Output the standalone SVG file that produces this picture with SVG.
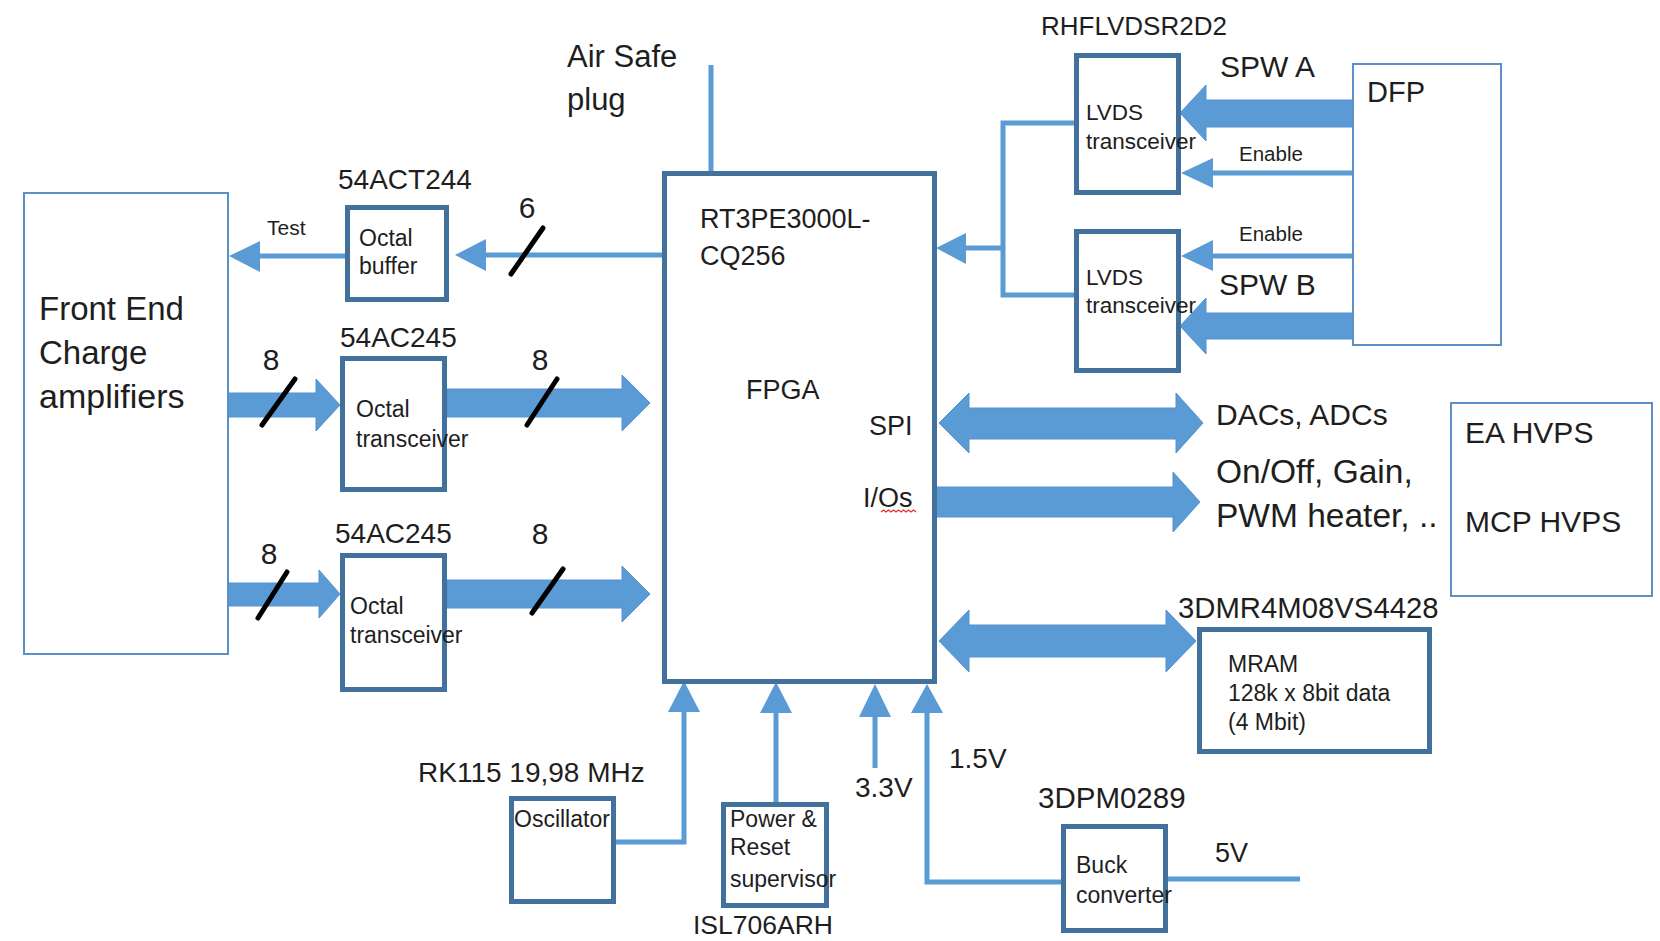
<svg xmlns="http://www.w3.org/2000/svg" width="1660" height="941" viewBox="0 0 1660 941">
<style>
text{font-family:"Liberation Sans",Arial,sans-serif;fill:#1e1e1e}
.thick{fill:#fff;stroke:#41719c;stroke-width:5}
.thin{fill:#fff;stroke:#5b8fc8;stroke-width:2}
.ln{fill:none;stroke:#5b9bd5;stroke-width:5}
.hd{fill:#5b9bd5;stroke:none}
.fat{fill:#5b9bd5;stroke:#5592cf;stroke-width:1}
.sl{stroke:#000;stroke-width:5;stroke-linecap:round}
.sm{font-size:23px}
.lv{font-size:22.5px}
.s20{font-size:20px}
.part{font-size:28px}
.s27{font-size:27px}
.s30{font-size:30px}
.s31{font-size:31px}
.s33{font-size:33px}
.num{font-size:30px;text-anchor:middle}
</style>
<rect width="1660" height="941" fill="#fff"/>

<g id="connectors">
  <!-- Air safe plug -->
  <line class="ln" x1="711" y1="65" x2="711" y2="174"/>
  <!-- Test -->
  <line class="ln" x1="345" y1="256" x2="258" y2="256"/>
  <polygon class="hd" points="229,256 260,241 260,272"/>
  <!-- 6 bus -->
  <line class="ln" x1="664" y1="255" x2="484" y2="255"/>
  <polygon class="hd" points="455,255 486,239 486,271"/>
  <line class="sl" x1="511" y1="274" x2="543" y2="228"/>
  <!-- FE to T1 -->
  <polygon class="fat" points="226,393 316,393 316,379 340,405 316,431 316,417 226,417"/>
  <line class="sl" x1="262" y1="425" x2="295" y2="379"/>
  <!-- T1 to FPGA -->
  <polygon class="fat" points="447,389 622,389 622,375 650,403 622,431 622,417 447,417"/>
  <line class="sl" x1="527" y1="425" x2="557" y2="379"/>
  <!-- FE to T2 -->
  <polygon class="fat" points="226,583 319,583 319,570 340,594 319,618 319,606 226,606"/>
  <line class="sl" x1="258" y1="618" x2="287" y2="572"/>
  <!-- T2 to FPGA -->
  <polygon class="fat" points="447,580 622,580 622,566 650,594 622,622 622,608 447,608"/>
  <line class="sl" x1="532" y1="613" x2="563" y2="569"/>
  <!-- LVDS bracket to FPGA -->
  <polyline class="ln" points="1076,123 1003,123 1003,295 1076,295"/>
  <line class="ln" x1="1003" y1="248" x2="964" y2="248"/>
  <polygon class="hd" points="936,248 966,233 966,264"/>
  <!-- SPW A -->
  <polygon class="fat" points="1353,100 1206,100 1206,85 1180,113 1206,141 1206,127 1353,127"/>
  <!-- Enable A -->
  <line class="ln" x1="1353" y1="173" x2="1210" y2="173"/>
  <polygon class="hd" points="1181,173 1213,158 1213,188"/>
  <!-- Enable B -->
  <line class="ln" x1="1353" y1="256" x2="1210" y2="256"/>
  <polygon class="hd" points="1181,256 1213,240 1213,271"/>
  <!-- SPW B -->
  <polygon class="fat" points="1353,313 1206,313 1206,298 1180,326 1206,354 1206,339 1353,339"/>
  <!-- SPI double arrow -->
  <polygon class="fat" points="939,423 969,393 969,408 1176,408 1176,393 1203,423 1176,453 1176,439 969,439 969,453"/>
  <!-- I/Os arrow -->
  <polygon class="fat" points="935,487 1173,487 1173,472 1200,502 1173,532 1173,517 935,517"/>
  <!-- MRAM double arrow -->
  <polygon class="fat" points="939,641 969,610 969,625 1166,625 1166,610 1196,641 1166,672 1166,657 969,657 969,672"/>
  <!-- Oscillator -->
  <polyline class="ln" points="614,842 684,842 684,708"/>
  <polygon class="hd" points="684,681 700,712 668,712"/>
  <!-- Power & reset -->
  <line class="ln" x1="776" y1="803" x2="776" y2="710"/>
  <polygon class="hd" points="776,682 792,713 760,713"/>
  <!-- 3.3V -->
  <line class="ln" x1="875" y1="768" x2="875" y2="714"/>
  <polygon class="hd" points="875,684 891,717 859,717"/>
  <!-- 1.5V -->
  <polyline class="ln" points="1063,882 927,882 927,710"/>
  <polygon class="hd" points="927,684 943,713 911,713"/>
  <!-- 5V -->
  <line class="ln" x1="1166" y1="879" x2="1300" y2="879"/>
</g>

<g id="labels">
  <text class="s31" x="567" y="67">Air Safe</text>
  <text class="s31" x="567" y="110">plug</text>
  <text x="267" y="235" style="font-size:21px">Test</text>
  <text class="num" x="527" y="218">6</text>
  <text class="num" x="271" y="370">8</text>
  <text class="num" x="540" y="370">8</text>
  <text class="num" x="269" y="564">8</text>
  <text class="num" x="540" y="544">8</text>
  <text class="s30" x="1220" y="77">SPW A</text>
  <text class="s30" x="1219" y="295">SPW B</text>
  <text class="s20" x="1239" y="161" style="font-size:20.5px">Enable</text>
  <text class="s20" x="1239" y="241" style="font-size:20.5px">Enable</text>
  <text class="s30" x="1216" y="425">DACs, ADCs</text>
  <text x="1216" y="483" style="font-size:33.5px">On/Off, Gain,</text>
  <text x="1216" y="527" style="font-size:33.5px">PWM heater, ..</text>
  <text class="part" x="855" y="797">3.3V</text>
  <text class="part" x="949" y="768">1.5V</text>
  <text class="s27" x="1215" y="862">5V</text>
</g>

<g id="front-end">
  <rect class="thin" x="24" y="193" width="204" height="461"/>
  <text class="s33" x="39" y="320">Front End</text>
  <text class="s33" x="39" y="364">Charge</text>
  <text x="39" y="408" style="font-size:34px">amplifiers</text>
</g>

<g id="octal-buffer">
  <text class="part" x="338" y="189">54ACT244</text>
  <rect class="thick" x="347.5" y="207.5" width="99" height="92"/>
  <text class="sm" x="359" y="246">Octal</text>
  <text class="sm" x="359" y="274">buffer</text>
</g>

<g id="octal-transceiver-1">
  <text class="part" x="340" y="347">54AC245</text>
  <rect class="thick" x="342.5" y="358.5" width="102" height="131"/>
  <text class="sm" x="356" y="417">Octal</text>
  <text class="sm" x="356" y="447">transceiver</text>
</g>

<g id="octal-transceiver-2">
  <text class="part" x="335" y="543">54AC245</text>
  <rect class="thick" x="342.5" y="555.5" width="102" height="134"/>
  <text class="sm" x="350" y="614">Octal</text>
  <text class="sm" x="350" y="643">transceiver</text>
</g>

<g id="fpga">
  <rect class="thick" x="664.5" y="173.5" width="270" height="508"/>
  <text class="s27" x="700" y="228">RT3PE3000L-</text>
  <text class="s27" x="700" y="265">CQ256</text>
  <text class="s27" x="746" y="399">FPGA</text>
  <text class="s27" x="869" y="435">SPI</text>
  <text class="s27" x="863" y="507">I/Os</text>
  <path d="M881,512 l2.5,-2 l2.5,2 l2.5,-2 l2.5,2 l2.5,-2 l2.5,2 l2.5,-2 l2.5,2 l2.5,-2 l2.5,2 l2.5,-2 l2.5,2 l2.5,-2 l2.5,2" fill="none" stroke="#e03030" stroke-width="1.3"/>
</g>

<g id="lvds-a">
  <text x="1041" y="35" style="font-size:26px">RHFLVDSR2D2</text>
  <rect class="thick" x="1076.5" y="55.5" width="102" height="137"/>
  <text class="lv" x="1086" y="120">LVDS</text>
  <text class="lv" x="1086" y="149">transceiver</text>
</g>

<g id="lvds-b">
  <rect class="thick" x="1076.5" y="231.5" width="102" height="139"/>
  <text class="lv" x="1086" y="285">LVDS</text>
  <text class="lv" x="1086" y="313">transceiver</text>
</g>

<g id="dfp">
  <rect class="thin" x="1353" y="64" width="148" height="281"/>
  <text x="1367" y="102" style="font-size:29px">DFP</text>
</g>

<g id="hvps">
  <rect class="thin" x="1451" y="403" width="201" height="193"/>
  <text class="s30" x="1465" y="443">EA HVPS</text>
  <text class="s30" x="1465" y="532">MCP HVPS</text>
</g>

<g id="mram">
  <text x="1178" y="618" style="font-size:29.3px">3DMR4M08VS4428</text>
  <rect class="thick" x="1199.5" y="629.5" width="230" height="122"/>
  <text class="sm" x="1228" y="672">MRAM</text>
  <text class="sm" x="1228" y="701">128k x 8bit data</text>
  <text class="sm" x="1228" y="730">(4 Mbit)</text>
</g>

<g id="oscillator">
  <text class="part" x="418" y="782">RK115 19,98 MHz</text>
  <rect class="thick" x="511.5" y="798.5" width="102" height="103"/>
  <text class="sm" x="514" y="827">Oscillator</text>
</g>

<g id="power-reset">
  <rect class="thick" x="723.5" y="804.5" width="103" height="101"/>
  <text class="sm" x="730" y="827">Power &amp;</text>
  <text class="sm" x="730" y="855">Reset</text>
  <text class="sm" x="730" y="887">supervisor</text>
  <text x="693" y="934" style="font-size:26.5px">ISL706ARH</text>
</g>

<g id="buck">
  <text x="1038" y="808" style="font-size:29.5px">3DPM0289</text>
  <rect class="thick" x="1063.5" y="826.5" width="102" height="104"/>
  <text class="sm" x="1076" y="873">Buck</text>
  <text class="sm" x="1076" y="903">converter</text>
</g>
</svg>
